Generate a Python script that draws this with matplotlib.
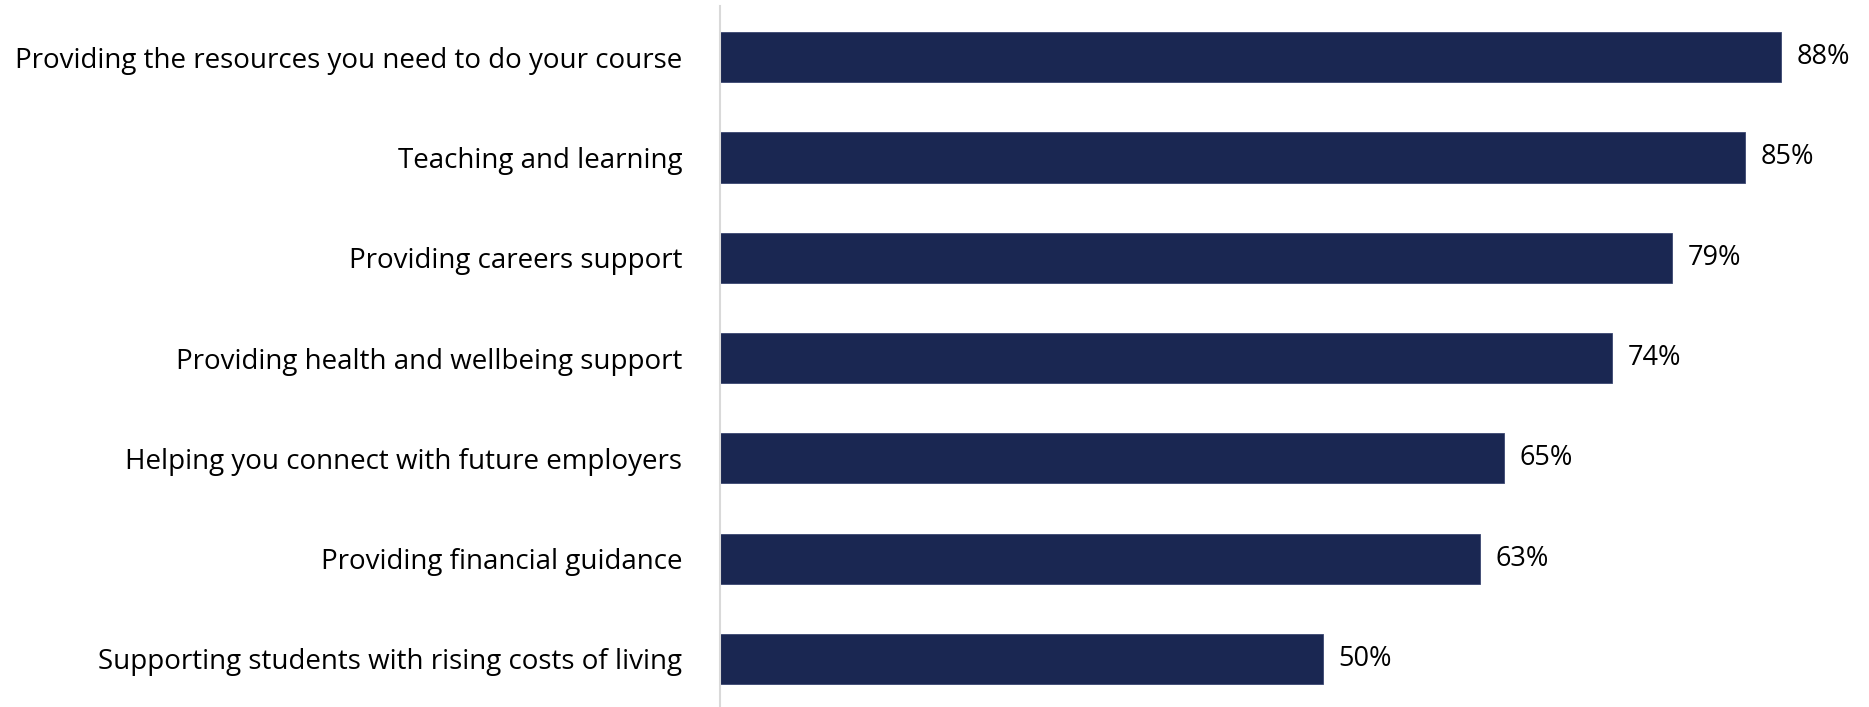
import matplotlib.pyplot as plt

plt.rcParams['font.family'] = ['Open Sans', 'DejaVu Sans']

categories = [
    "Providing the resources you need to do your course",
    "Teaching and learning",
    "Providing careers support",
    "Providing health and wellbeing support",
    "Helping you connect with future employers",
    "Providing financial guidance",
    "Supporting students with rising costs of living",
]
values = [88, 85, 79, 74, 65, 63, 50]
bar_color = "#1a2752"

fig = plt.figure(figsize=(18.69, 7.07), dpi=100)
ax = fig.add_axes([0.3852, 0.0, 0.6148, 0.9915])

ypos = list(range(len(categories)))
ax.barh(ypos, values, height=0.5, color=bar_color, edgecolor="#3a4670", linewidth=0.6)

for y, v in zip(ypos, values):
    ax.text(v + 1.3, y, f"{v}%", va="center", ha="left", fontsize=19.5, color="#000000")

ax.set_yticks(ypos)
ax.set_yticklabels(categories, fontsize=20)
ax.tick_params(axis="y", length=0, pad=27)
ax.set_xticks([])
ax.set_xlim(0, 95.3)
ax.set_ylim(6.48, -0.51)

for side in ["top", "right", "bottom"]:
    ax.spines[side].set_visible(False)
ax.spines["left"].set_color("#d9d9d9")
ax.spines["left"].set_linewidth(1.5)

fig.savefig("out.png", dpi=100)
